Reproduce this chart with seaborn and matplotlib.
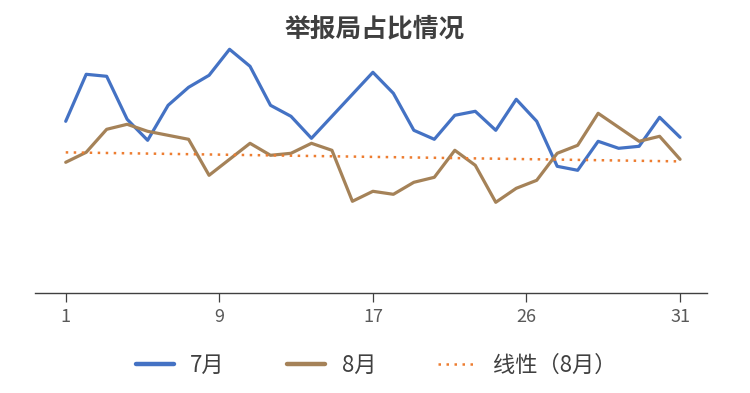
import numpy as np
import pandas as pd
import seaborn as sns
import matplotlib
import matplotlib.pyplot as plt

matplotlib.use("Agg")

DAYS = list(range(1, 32))
JULY = [17.2, 21.9, 21.7, 17.4, 15.3, 18.8, 20.6, 21.8, 24.4, 22.7,
        18.8, 17.7, 15.5, 17.7, 19.9, 22.1, 20.0, 16.3, 15.4, 17.8,
        18.2, 16.3, 19.4, 17.2, 12.7, 12.3, 15.2, 14.5, 14.7, 17.6, 15.6]
AUGUST = [13.1, 14.1, 16.4, 16.9, 16.2, 15.8, 15.4, 11.8, 13.4, 15.0,
          13.8, 14.0, 15.0, 14.3, 9.2, 10.2, 9.9, 11.1, 11.6, 14.3,
          12.8, 9.1, 10.5, 11.3, 14.0, 14.8, 18.0, 16.6, 15.2, 15.7, 13.4]
TICK_LABELS = ["1", "9", "17", "26", "31"]
TITLE = "举报局占比情况"

BLUE = "#4472c4"
BROWN = "#a58258"
ORANGE = "#ed7d31"

sns.set_theme(style="white")
plt.rcParams["font.family"] = ["Noto Sans CJK SC", "DejaVu Sans"]

df = pd.DataFrame({"day": DAYS, "july": JULY, "august": AUGUST})

fig = plt.figure(figsize=(7.5, 3.93), dpi=100)
ax = fig.add_axes([35 / 750, 99.7 / 393, 672.3 / 750, 250 / 393])

sns.lineplot(data=df, x="day", y="july", color=BLUE, linewidth=2.3,
             label="7月", ax=ax)
sns.lineplot(data=df, x="day", y="august", color=BROWN, linewidth=2.3,
             label="8月", ax=ax)
sns.regplot(data=df, x="day", y="august", scatter=False, ci=None, ax=ax,
            label="线性（8月）",
            line_kws={"color": ORANGE, "linestyle": (0, (1, 2.2)),
                      "linewidth": 1.8})

ax.set_xlim(-0.5, 32.33)
ax.set_ylim(0, 25)
ax.set_xticks(np.linspace(DAYS[0], DAYS[-1], len(TICK_LABELS)))
ax.set_xticklabels(TICK_LABELS)
ax.set_yticks([])
ax.set_xlabel("")
ax.set_ylabel("")
for side in ["left", "top", "right"]:
    ax.spines[side].set_visible(False)
ax.spines["bottom"].set_color("#404040")
ax.spines["bottom"].set_linewidth(1.0)
ax.tick_params(axis="x", direction="out", length=6.5, width=0.9,
               color="#404040", labelsize=13, labelcolor="#595959",
               pad=4, bottom=True)
ax.patch.set_alpha(0)

fig.text(0.5, 1 - 29 / 393, TITLE, ha="center", va="center",
         fontsize=18.5, fontweight="black", color="#3f3f3f")

leg = ax.legend(loc="center",
                bbox_to_anchor=(0.5 - (35 + 672.3 / 2 - 376) / 672.3,
                                (393 - 365 - 99.7) / 250),
                ncol=3, frameon=False, fontsize=16, handlelength=1.7,
                handletextpad=0.75, columnspacing=2.8, labelcolor="#404040")
for handle in leg.get_lines()[:2]:
    handle.set_linewidth(3.2)
    handle.set_solid_capstyle("round")

fig.savefig("out.png", dpi=100)
